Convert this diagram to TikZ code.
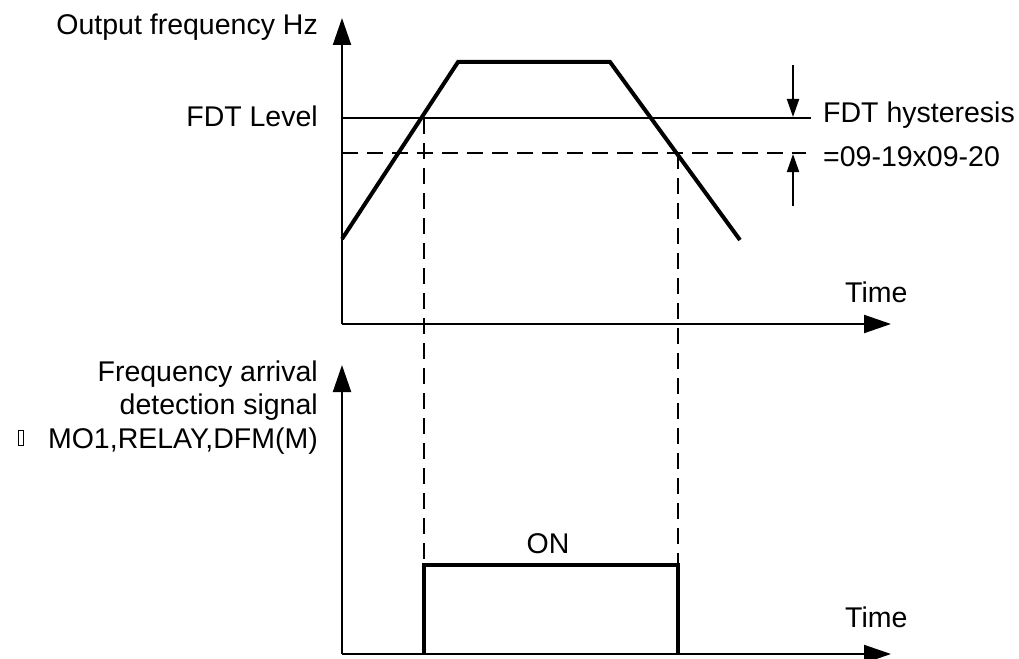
\documentclass[tikz,border=0pt]{standalone}
\usepackage{fontspec}
\setmainfont{Liberation Sans}
\usetikzlibrary{arrows.meta}
\newcommand\tofubox{\raisebox{3pt}{\setlength{\fboxsep}{0pt}\setlength{\fboxrule}{1pt}\fbox{\rule{0pt}{14pt}\hspace{4pt}}}}
\tikzset{
  lbl/.style={inner sep=0pt, font=\fontsize{28.5}{34}\selectfont},
  axis/.style={line width=2pt, -{Triangle[length=27pt,width=18pt]}},
  thin/.style={line width=2pt},
  dashline/.style={line width=2pt, dash pattern=on 16pt off 9pt},
  thick/.style={line width=4pt, line join=miter},
  hyst/.style={line width=2pt, -{Triangle[length=18pt,width=12pt]}}
}
\begin{document}
\begin{tikzpicture}[x=1pt,y=-1pt]
\useasboundingbox (0,0) rectangle (1019,658);
% coordinates
\coordinate (o1) at (342,324);
\coordinate (y1) at (342,18);
\coordinate (x1) at (891,324);
\coordinate (o2) at (342,654);
\coordinate (y2) at (342,365);
\coordinate (x2) at (891,654);
\coordinate (fdtL) at (342,118);
\coordinate (fdtR) at (811,118);
\coordinate (hysL) at (342,153);
\coordinate (hysR) at (806,153);
\coordinate (p0) at (342,239);
\coordinate (p1) at (458,62);
\coordinate (p2) at (610,62);
\coordinate (p3) at (740,240);
\coordinate (c1) at (424,118);
\coordinate (c2) at (678,153);
\coordinate (s1) at (424,565);
\coordinate (s2) at (678,565);
\coordinate (b1) at (424,654);
\coordinate (b2) at (678,654);
\coordinate (da) at (793,65);
\coordinate (db) at (793,117);
\coordinate (ua) at (793,206);
\coordinate (ub) at (793,154);
% axes
\draw[axis] (o1) -- (y1);
\draw[axis] (o1) -- (x1);
\draw[axis] (o2) -- (y2);
\draw[axis] (o2) -- (x2);
% levels
\draw[thin] (fdtL) -- (fdtR);
\draw[dashline] (hysL) -- (hysR);
\draw[dashline] (c1) -- (s1);
\draw[dashline] (c2) -- (s2);
% frequency curve
\draw[thick] (p0) -- (p1) -- (p2) -- (p3);
% pulse
\draw[thick] (b1) -- (s1) -- (s2) -- (b2);
% hysteresis arrows
\draw[hyst] (da) -- (db);
\draw[hyst] (ua) -- (ub);
% labels
\node[lbl, anchor=base east] (tof) at (318,35) {Output frequency Hz};
\node[lbl, anchor=base east] (tfdt) at (318,127) {FDT Level};
\node[lbl, anchor=base west] (th1) at (823,122) {FDT hysteresis};
\node[lbl, anchor=base west] (th2) at (823,166) {=09-19x09-20};
\node[lbl, anchor=base west] (tt1) at (845,302) {Time};
\node[lbl, anchor=base west] (tt2) at (845,627) {Time};
\node[lbl, anchor=base] (ton) at (548,553) {ON};
\node[lbl, anchor=base east] (tf1) at (318,381) {Frequency arrival};
\node[lbl, anchor=base east] (tf2) at (318,414) {detection signal};
\node[lbl, anchor=base east] (tf3) at (318,448) {\tofubox\hspace{24pt}MO1,RELAY,DFM(M)};
\end{tikzpicture}
\end{document}
